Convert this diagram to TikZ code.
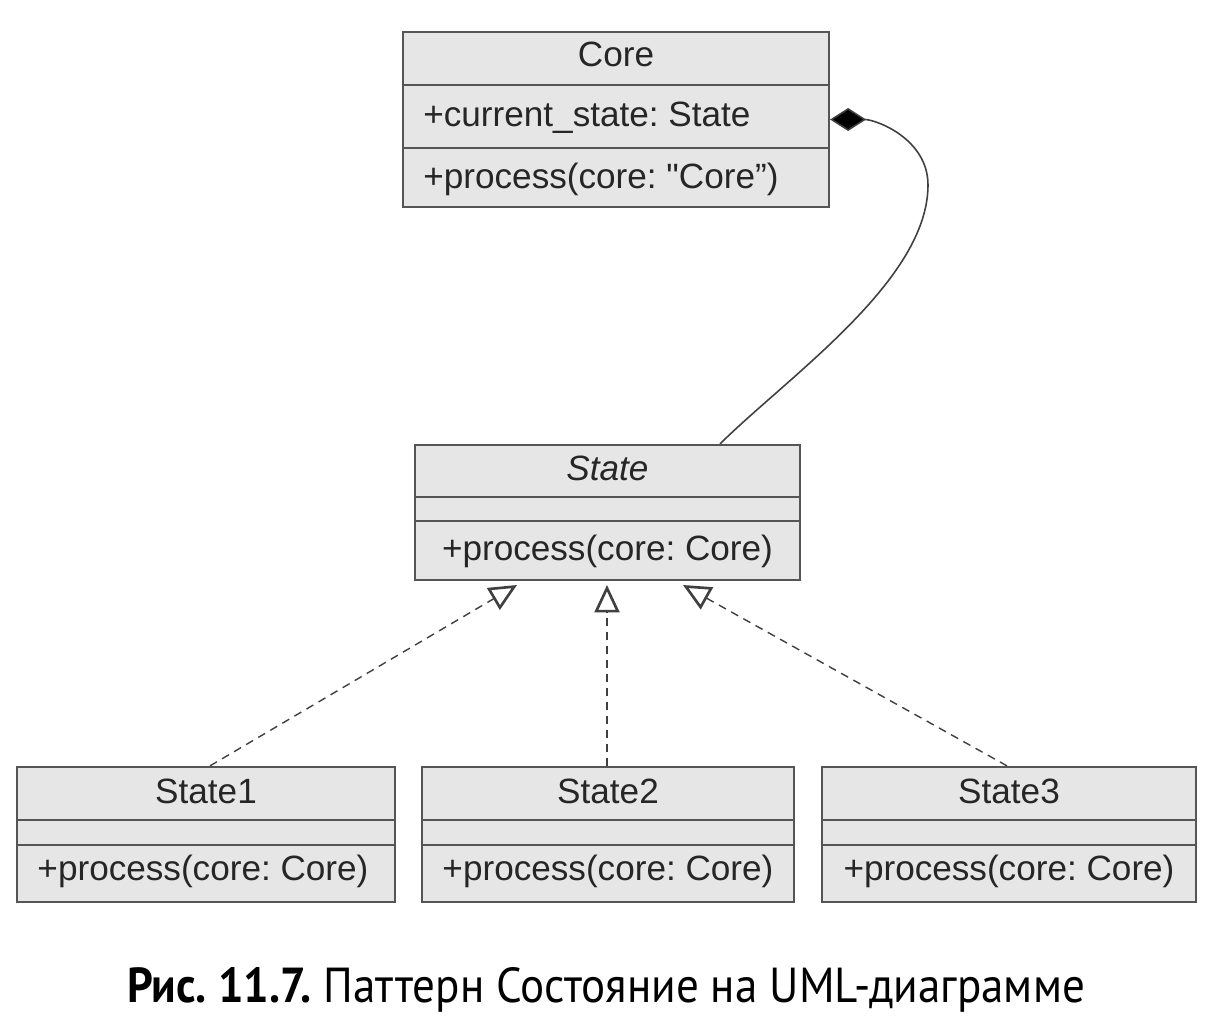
\documentclass[tikz,border=0pt]{standalone}
\usepackage{fontspec}
\setmainfont{Liberation Sans}[Ligatures=TeXOff]
\newfontfamily\capfont{PT Sans}
\usetikzlibrary{arrows.meta,calc}
\definecolor{boxfill}{HTML}{E6E6E6}
\definecolor{boxline}{HTML}{555555}
\definecolor{txt}{HTML}{262626}
\frenchspacing
\begin{document}
\begin{tikzpicture}[x=0.02cm,y=-0.02cm,
  cls/.style={draw=boxline,fill=boxfill,line width=1.3pt,rectangle,inner sep=0pt},
  divider/.style={draw=boxline,line width=1.3pt},
  lbl/.style={text=txt,font=\fontsize{20}{24}\selectfont,inner sep=0pt,anchor=base},
  realize/.style={draw=black!75,line width=0.8pt,dash pattern=on 0.16cm off 0.12cm,
     -{Triangle[open,length=0.55cm,width=0.5cm,line width=1.5pt,sep=0pt]}},
  compo/.style={draw=black!75,line width=0.9pt,{Diamond[length=0.72cm,width=0.46cm,fill=black]}-}]
\useasboundingbox (0,0) rectangle (1225,1021);
\fill[white] (0,0) rectangle (1225,1021);

% Core
\node[cls,minimum width=8.52cm,minimum height=3.5cm] (core) at (616,119.5) {};
\draw[divider] (403,85) -- (829,85);
\draw[divider] (403,148) -- (829,148);
\node[lbl] (coret) at (616,66) {Core};
\node[lbl,anchor=base west] (corea) at (423,126) {+current\_state: State};
\node[lbl,anchor=base west] (corem) at (423,188) {+process(core: "Core”)};

% State
\node[cls,minimum width=7.7cm,minimum height=2.7cm] (st) at (607.5,512.5) {};
\draw[divider] (415,497) -- (800,497);
\draw[divider] (415,521) -- (800,521);
\node[lbl,font=\fontsize{20}{24}\selectfont\itshape] (stt) at (607.5,480) {State};
\node[lbl] (stm) at (607.5,560) {+process(core: Core)};

% State1
\node[cls,minimum width=7.56cm,minimum height=2.7cm] (s1) at (206,834.5) {};
\draw[divider] (17,820) -- (395,820);
\draw[divider] (17,845) -- (395,845);
\node[lbl] (s1t) at (206,803) {State1};
\node[lbl] (s1m) at (203,880) {+process(core: Core)};

% State2
\node[cls,minimum width=7.44cm,minimum height=2.7cm] (s2) at (608,834.5) {};
\draw[divider] (422,820) -- (794,820);
\draw[divider] (422,845) -- (794,845);
\node[lbl] (s2t) at (608,803) {State2};
\node[lbl] (s2m) at (608,880) {+process(core: Core)};

% State3
\node[cls,minimum width=7.48cm,minimum height=2.7cm] (s3) at (1009,834.5) {};
\draw[divider] (822,820) -- (1196,820);
\draw[divider] (822,845) -- (1196,845);
\node[lbl] (s3t) at (1009,803) {State3};
\node[lbl] (s3m) at (1009,880) {+process(core: Core)};

% realization connectors
\coordinate (t1) at (517,585);
\coordinate (t2) at (607,585);
\coordinate (t3) at (683,585);
\draw[realize] ($(s1.north)+(4,0)$) -- (t1);
\draw[realize] ($(s2.north)+(-1,0)$) -- (t2);
\draw[realize] ($(s3.north)+(-2,0)$) -- (t3);

% composition
\coordinate (cmid) at (928,185);
\draw[compo] (core.east) to[out=0,in=90] (cmid)
   .. controls (928,280) and (790,375) .. ($(st.north)+(112.5,0)$);

% caption
\node[text=black,inner sep=0pt,anchor=base] (cap) at (606,1002)
  {\resizebox{19.16cm}{0.7cm}{\capfont\textbf{Рис. 11.7.} Паттерн Состояние на UML-диаграмме}};
\end{tikzpicture}
\end{document}
